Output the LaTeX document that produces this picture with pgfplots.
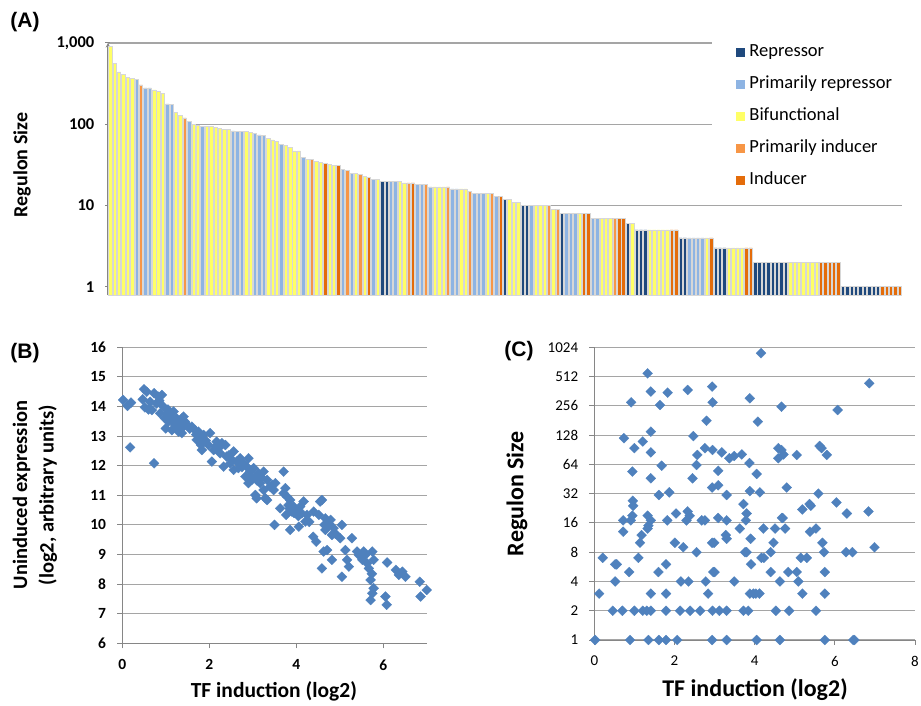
\documentclass[border=0pt]{standalone}
\usepackage{fontspec}
\setmainfont{Carlito}
\newfontfamily\arialf{Liberation Sans}
\usepackage{pgfplots}
\pgfplotsset{compat=1.18}
\definecolor{cR}{RGB}{31,73,125}
\definecolor{cPR}{RGB}{142,180,227}
\definecolor{cY}{RGB}{255,255,102}
\definecolor{cPI}{RGB}{247,150,70}
\definecolor{cI}{RGB}{228,108,10}
\definecolor{gridc}{RGB}{165,165,165}
\definecolor{axisc}{RGB}{134,134,134}
\definecolor{barline}{RGB}{215,215,215}
\definecolor{mk}{RGB}{79,129,189}
\pgfplotsset{
  common/.style={
    scale only axis,
    axis line style={draw=axisc, line width=1pt, -},
    tick align=outside, major tick length=5pt,
    tick style={draw=axisc, line width=1pt},
    ymajorgrids, major grid style={draw=gridc, line width=1.1pt},
    yticklabel style={inner sep=0pt, anchor=east, xshift=-11pt},
    xticklabel style={inner sep=0pt, anchor=north, yshift=-11pt},
  },
  bars/.style={ybar, bar width=3.4pt, bar shift=0pt, draw=barline, line width=0.5pt, fill=#1},
  dia/.style={only marks, mark=square*, mark size=3.5pt, mark options={rotate=45, fill=mk, draw=mk, line width=0.3pt}},
}
\begin{document}
\begin{tikzpicture}
\path[use as bounding box] (0pt,0pt) rectangle (921pt,705pt);
% ---------------- Panel A
\begin{axis}[common,
  at={(108pt,409.5pt)}, anchor=south west,
  width=794pt, height=252.5pt,
  xmin=0.5, xmax=181.5,
  ymode=log, ymin=0.78, ymax=1000, log origin y=infty,
  axis x line=none, axis y line=left,
  ytick={1,10,100,1000}, yticklabels={1,10,100,{1,000}}, yminorticks=false,
  yticklabel style={font=\bfseries\fontsize{16.5}{20}\selectfont},
  ylabel={Regulon Size},
  ylabel style={font=\bfseries\fontsize{20}{24}\selectfont, at={(axis description cs:-0.1083,0.517)}, anchor=center},
  legend style={at={(axis description cs:0.761,1.03)}, anchor=north west, draw=none, fill=white,
    font=\fontsize{18.5}{22}\selectfont, inner xsep=24pt, inner ysep=8pt,
    row sep=15pt, column sep=4pt,
    nodes={inner sep=0pt, text height=13pt, text depth=4pt}},
  legend cell align=left,
  legend image code/.code={\fill[#1,draw=none] (0pt,-4.5pt) rectangle (9pt,4.5pt);},
]
\addplot[bars=cR] coordinates {(63,20)(64,20)(91,12)(95,10)(96,10)(104,8)(119,6)(121,5)(122,5)(123,5)(131,4)(132,4)(139,3)(140,3)(141,3)(148,2)(149,2)(150,2)(151,2)(152,2)(153,2)(154,2)(155,2)(168,1)(169,1)(170,1)(171,1)(172,1)(173,1)(174,1)(175,1)(176,1)};
\addlegendentry{Repressor}
\addplot[bars=cPR] coordinates {(7,355)(9,280)(10,280)(14,178)(15,175)(19,109)(22,95)(29,83)(30,82)(31,81)(34,77)(35,74)(36,73)(40,56)(45,39)(54,28)(56,25)(61,21)(65,20)(66,20)(71,18)(72,18)(74,17)(79,16)(80,16)(84,14)(85,14)(86,14)(89,13)(97,10)(105,8)(106,8)(107,8)(111,7)(112,7)(133,4)(134,4)(135,4)(136,4)};
\addlegendentry{Primarily repressor}
\addplot[bars=cY] coordinates {(1,900)(2,560)(3,440)(4,410)(5,380)(6,370)(11,265)(12,255)(13,240)(16,140)(17,128)(20,99)(21,97)(23,95)(24,95)(25,92)(26,89)(27,87)(28,87)(32,81)(33,80)(37,67)(38,64)(39,62)(41,55)(42,52)(43,47)(44,47)(46,37)(48,35)(49,34)(51,32)(52,31)(57,25)(59,23)(62,21)(67,20)(68,19)(75,17)(76,17)(77,17)(81,16)(82,16)(87,14)(92,12)(93,11)(94,11)(98,10)(99,10)(100,10)(102,9)(108,8)(113,7)(114,7)(115,7)(120,6)(124,5)(125,5)(126,5)(127,5)(128,5)(137,4)(142,3)(143,3)(144,3)(145,3)(156,2)(157,2)(158,2)(159,2)(160,2)(161,2)(162,2)};
\addlegendentry{Bifunctional}
\addplot[bars=cPI] coordinates {(8,305)(18,120)(47,37)(55,27)(58,24)(69,19)(73,18)(78,17)(83,15)(88,14)(101,10)(103,9)(116,7)};
\addlegendentry{Primarily inducer}
\addplot[bars=cI] coordinates {(50,33)(53,31)(60,22)(70,19)(90,13)(109,8)(110,8)(117,7)(118,7)(129,5)(130,5)(138,4)(146,3)(147,3)(163,2)(164,2)(165,2)(166,2)(167,2)(177,1)(178,1)(179,1)(180,1)(181,1)};
\addlegendentry{Inducer}
\end{axis}
% ---------------- Panel B
\begin{axis}[common,
  at={(122.3pt,61.7pt)}, anchor=south west,
  width=304.4pt, height=296pt,
  xmin=0, xmax=7, ymin=6, ymax=16, clip=false,
  axis x line*=bottom, axis y line*=left,
  xtick={0,2,4,6}, xticklabels={0,2,4,6},
  ytick={6,7,8,9,10,11,12,13,14,15,16}, yticklabels={6,7,8,9,10,11,12,13,14,15,16},
  tick label style={font=\bfseries\fontsize{15.5}{18}\selectfont},
  xlabel={TF induction (log2)},
  xlabel style={font=\bfseries\fontsize{21.5}{26}\selectfont, at={(axis description cs:0.498,-0.1635)}, anchor=center},
  ylabel={Uninduced expression\\(log2, arbitrary units)},
  ylabel style={font=\bfseries\fontsize{20.5}{26.6}\selectfont, align=center, at={(axis description cs:-0.287,0.501)}, anchor=center},
]
\addplot[dia] coordinates {
(0.02,14.22)(0.12,14.02)(0.20,14.13)(0.18,12.62)(0.50,14.58)(0.56,14.50)(0.47,14.24)(0.52,13.97)(0.64,14.16)(0.68,13.88)
(0.73,14.45)(0.79,14.10)(0.83,14.33)(0.91,14.39)(0.73,12.08)(0.87,13.77)(0.94,14.00)(0.98,13.60)(1.02,13.77)(1.06,13.49)
(1.00,13.26)(1.10,13.66)(1.18,13.83)(1.21,13.38)(1.25,13.60)(1.14,13.20)(1.33,13.43)(1.37,13.60)(1.29,13.15)(1.37,13.10)
(1.41,13.32)(1.44,13.49)(1.41,13.66)(1.60,13.32)(1.67,13.20)(1.75,13.15)(1.79,12.98)(1.71,12.87)(1.81,12.70)(1.83,12.53)
(1.87,13.04)(2.02,13.10)(1.98,12.70)(2.10,12.53)(2.06,12.14)(2.17,12.81)(2.21,12.59)(2.29,12.76)(2.25,12.42)(2.33,11.97)
(2.37,12.70)(2.40,12.31)(2.48,12.08)(2.56,12.48)(2.56,11.86)(2.63,12.14)(2.71,12.25)(2.67,11.92)(2.79,12.08)(2.86,11.97)
(2.90,12.25)(2.83,11.63)(2.90,11.41)(2.94,11.80)(2.98,11.52)(3.02,11.92)(3.06,11.63)(3.06,11.01)(3.09,10.90)(3.13,11.75)
(3.17,11.41)(3.25,11.80)(3.25,11.18)(3.29,10.90)(3.33,10.84)(3.33,11.52)(3.40,11.29)(3.48,11.18)(3.52,11.41)(3.50,10.00)
(3.71,11.80)(3.63,10.56)(3.71,11.07)(3.75,11.24)(3.79,10.95)(3.77,10.34)(3.82,10.67)(3.86,9.83)(3.86,10.84)(3.90,10.45)
(3.94,10.62)(4.02,10.50)(4.06,9.94)(4.09,10.62)(4.13,10.39)(4.17,10.79)(4.21,10.11)(4.25,10.34)(4.40,10.45)(4.39,9.60)
(4.46,9.43)(4.52,10.34)(4.55,10.79)(4.59,10.84)(4.59,8.53)(4.63,9.10)(4.67,10.22)(4.67,9.83)(4.71,9.15)(4.75,10.05)
(4.79,10.17)(4.82,8.82)(4.82,9.66)(4.86,9.89)(5.01,9.55)(5.05,10.00)(5.05,8.25)(5.13,9.15)(5.17,8.82)(5.21,8.59)
(5.28,9.55)(5.40,9.10)(5.44,8.98)(5.52,8.82)(5.55,9.10)(5.63,8.70)(5.67,8.53)(5.71,8.14)(5.71,7.46)(5.75,9.10)
(5.75,7.69)(5.78,8.82)(5.78,7.86)(6.05,7.58)(6.08,7.30)(6.09,8.73)(6.29,8.48)(6.36,8.31)(6.44,8.42)(6.51,8.25)
(6.84,8.08)(6.86,7.58)(7.00,7.80)
(0.60,13.90)(0.85,14.20)(1.05,13.90)(1.15,13.55)(1.30,13.30)(1.48,13.40)(1.55,13.25)(1.70,13.05)(1.92,12.85)(2.15,12.65)
(2.45,12.35)(2.52,12.20)(2.75,11.95)(2.95,11.65)(3.10,11.50)(3.20,11.60)(3.45,11.35)(3.85,10.55)(3.95,10.40)(4.05,10.30)
(4.30,10.10)(4.65,10.00)(4.72,9.95)(4.90,9.70)(5.60,9.00)(5.74,8.35)};
\end{axis}
% ---------------- Panel C
\begin{axis}[common,
  at={(594.3pt,65pt)}, anchor=south west,
  width=320.7pt, height=292.7pt,
  xmin=0, xmax=8, ymode=log, log basis y=2, ymin=1, ymax=1024, clip=false,
  axis x line*=bottom, axis y line*=left,
  xtick={0,2,4,6,8}, xticklabels={0,2,4,6,8},
  ytick={1,2,4,8,16,32,64,128,256,512,1024}, yticklabels={1,2,4,8,16,32,64,128,256,512,1024}, yminorticks=false,
  tick label style={font=\fontsize{15}{18}\selectfont},
  xlabel={TF induction (log2)},
  xlabel style={font=\bfseries\fontsize{24}{28}\selectfont, at={(axis description cs:0.501,-0.171)}, anchor=center},
  ylabel={Regulon Size},
  ylabel style={font=\bfseries\fontsize{24}{28}\selectfont, at={(axis description cs:-0.241,0.5)}, anchor=center},
]
\addplot[dia] coordinates {
(0.02,1)(0.89,1)(1.35,1)(1.61,1)(1.79,1)(2.07,1)(2.94,1)(3.30,1)(4.05,1)(4.63,1)(5.75,1)(6.46,1)(6.49,1)
(0.46,2)(0.70,2)(1.00,2)(1.21,2)(1.31,2)(1.41,2)(1.79,2)(2.14,2)(2.39,2)(2.64,2)(2.95,2)(3.12,2)(3.30,2)(3.72,2)(3.84,2)(4.53,2)(4.86,2)(5.53,2)
(0.12,3)(1.41,3)(1.79,3)(2.84,3)(3.88,3)(3.97,3)(4.03,3)(4.12,3)(5.19,3)(5.75,3)
(0.52,4)(2.16,4)(2.35,4)(2.78,4)(3.49,4)(4.63,4)(5.09,4)
(0.87,5)(1.60,5)(2.97,5)(3.00,5)(4.40,5)(4.84,5)(5.05,5)(5.75,5)
(0.52,6)(0.56,6)(1.79,6)(3.91,6)
(0.21,7)(1.10,7)(4.17,7)(4.23,7)(5.15,7)(5.30,7)
(2.55,8)(3.76,8)(3.80,8)(4.40,8)(5.73,8)(6.28,8)(6.44,8)
(2.22,9)(6.99,9)
(1.14,10)(2.01,10)(2.94,10)(2.99,10)(4.47,10)(5.69,10)
(3.30,11)(3.90,11)(1.18,12)(3.28,12)(0.72,13)(5.38,13)
(1.33,14)(3.63,14)(4.22,14)(4.51,14)(4.76,14)(5.53,14)(1.35,15)
(0.72,17)(0.91,17)(1.41,17)(1.82,17)(2.30,17)(2.68,17)(2.76,17)(3.30,17)(3.78,17)
(4.68,18)(4.70,18)(3.09,18)(0.95,19)(1.33,19)(2.38,19)(2.04,20)(3.80,20)(6.30,20)(2.33,21)(6.84,21)(5.19,22)
(0.96,27)(0.97,24)(5.40,24)(3.72,25)(5.37,25)(6.04,26)
(1.61,31)(3.30,31)(1.87,33)(4.13,33)(2.94,37)(4.80,37)(3.09,39)(3.88,34)(5.59,32)
(0.95,54)(1.41,46)(2.45,46)(3.09,55)(4.05,51)
(1.68,62)(2.55,63)(3.37,74)(4.59,74)(3.87,66)
(1.00,94)(2.76,94)(4.59,94)(5.67,94)(1.41,85)(3.18,85)(2.57,80)(5.05,80)(5.80,80)(2.95,90)(4.67,90)(3.49,78)(3.68,81)(4.72,81)(5.62,99)
(0.74,119)(1.21,110)(1.41,139)(2.47,125)(2.80,180)(4.08,176)
(0.92,278)(2.95,278)(1.64,261)(3.88,306)(4.67,251)(6.07,232)
(1.41,359)(1.83,350)(2.33,373)(2.94,404)(6.86,437)(1.33,552)(4.16,890)};
\end{axis}
% panel letters
\node[font=\arialf\bfseries\fontsize{21}{25}\selectfont] at (25pt,683pt) {(A)};
\node[font=\arialf\bfseries\fontsize{21}{25}\selectfont] at (25pt,352pt) {(B)};
\node[font=\arialf\bfseries\fontsize{21}{25}\selectfont] at (519pt,354pt) {(C)};
\end{tikzpicture}
\end{document}
